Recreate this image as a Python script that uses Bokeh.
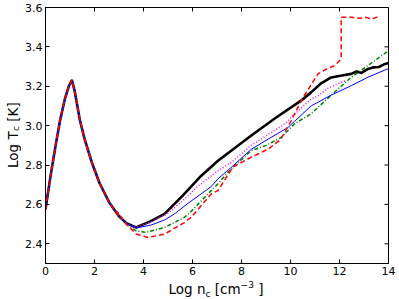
import re
import math
from bokeh.plotting import figure
from bokeh.models import Range1d, FixedTicker, Div
from bokeh.layouts import row, column
from bokeh.embed import file_html
from bokeh.resources import INLINE

# ---------------- data ----------------
# shared early part (all models coincide)
shared_x = [0.0, 0.2, 0.4, 0.6, 0.8, 0.95, 1.08, 1.2, 1.4, 1.6, 1.9, 2.2, 2.6, 3.0]
shared_y = [2.575, 2.74, 2.89, 3.03, 3.14, 3.20, 3.232, 3.17, 3.03, 2.93, 2.81, 2.71, 2.61, 2.54]

black_x = [3.3, 3.7, 4.3, 4.86, 5.6, 6.36, 7.04, 7.58, 8.4, 9.4, 10.43, 10.84, 11.25, 11.66, 12.1,
           12.48, 12.7, 12.9, 13.16, 13.4, 13.6, 13.8, 14.0]
black_y = [2.505, 2.483, 2.515, 2.552, 2.645, 2.746, 2.822, 2.873, 2.95, 3.04, 3.127, 3.169, 3.215, 3.245, 3.255,
           3.263, 3.275, 3.268, 3.288, 3.296, 3.298, 3.31, 3.318]

blue_x = [3.3, 3.7, 4.3, 4.86, 5.3, 5.81, 6.76, 7.04, 7.58, 8.4, 9.2, 9.89, 10.84, 11.66, 12.48, 13.16, 14.0]
blue_y = [2.505, 2.48, 2.495, 2.521, 2.555, 2.605, 2.69, 2.73, 2.788, 2.88, 2.94, 2.99, 3.10, 3.155, 3.203, 3.246, 3.29]

magenta_x = [3.3, 3.7, 4.3, 5.0, 5.67, 6.2, 7.04, 7.58, 8.4, 9.76, 10.84, 11.12, 11.53, 12.07, 12.3]
magenta_y = [2.505, 2.483, 2.51, 2.555, 2.627, 2.69, 2.771, 2.813, 2.90, 3.009, 3.136, 3.15, 3.19, 3.22, 3.23]

green_x = [3.3, 3.7, 4.11, 4.86, 5.67, 5.95, 6.76, 7.04, 7.58, 8.4, 9.0, 9.62, 10.16, 10.84, 11.53, 12.48, 13.16, 14.0]
green_y = [2.50, 2.465, 2.458, 2.483, 2.534, 2.565, 2.67, 2.705, 2.78, 2.873, 2.90, 2.94, 3.009, 3.06, 3.14, 3.246, 3.305, 3.38]

red_x = [2.93, 3.3, 3.7, 4.18, 4.86, 5.67, 5.95, 6.76, 7.04, 7.65, 8.4, 9.08, 9.6, 10.03, 10.44, 11.12, 11.5, 11.8,
         12.07, 12.07, 12.5, 12.8, 13.1, 13.3, 13.5, 13.63]
red_y = [2.564, 2.50, 2.45, 2.432, 2.449, 2.508, 2.535, 2.653, 2.67, 2.79, 2.84, 2.88, 2.93, 3.026, 3.127, 3.263, 3.29, 3.305,
         3.339, 3.55, 3.55, 3.545, 3.55, 3.54, 3.55, 3.55]

x_ticks = [0, 2, 4, 6, 8, 10, 12, 14]
y_ticks = [2.4, 2.6, 2.8, 3.0, 3.2, 3.4, 3.6]
X_MIN, X_MAX, Y_MIN, Y_MAX = 0, 14, 2.3, 3.6

# ---------------- figure ----------------
YLAB_W = 22          # width of the rotated y-label strip
XLAB_H = 18          # height of the x-label strip
W, H = 399 - YLAB_W, 299 - XLAB_H
LEFT, RIGHT, TOP, BOTTOM = 44 - YLAB_W, 11, 7, 18
p = figure(width=W, height=H, output_backend="svg", toolbar_location=None,
           x_range=Range1d(X_MIN, X_MAX), y_range=Range1d(Y_MIN, Y_MAX),
           min_border_left=LEFT, min_border_right=RIGHT, min_border_top=TOP, min_border_bottom=BOTTOM)
p.grid.visible = False
p.outline_line_color = "black"
p.outline_line_width = 1
p.background_fill_color = "white"
p.border_fill_color = "white"
p.margin = 0

FONT = "DejaVu Sans"
for ax, ticks in ((p.xaxis[0], x_ticks), (p.yaxis[0], y_ticks)):
    ax.ticker = FixedTicker(ticks=ticks)
    ax.major_tick_in = 4
    ax.major_tick_out = 0
    ax.minor_tick_line_color = None
    ax.major_label_text_font = FONT
    ax.major_label_text_font_size = "11px"
    ax.major_label_text_color = "black"
    ax.axis_line_color = "black"
    ax.major_label_standoff = 3
p.xaxis[0].major_label_overrides = {v: str(v) for v in x_ticks}
p.yaxis[0].major_label_overrides = {v: f"{v:.1f}" for v in y_ticks}

# inward ticks on the top and right edges (half of each dash is clipped by the frame)
p.scatter(x_ticks, [Y_MAX] * len(x_ticks), marker="dash", angle=math.pi / 2, size=8,
          line_color="black", line_width=1)
p.scatter([X_MAX] * len(y_ticks), y_ticks, marker="dash", size=8,
          line_color="black", line_width=1)

def full(xs, ys):
    return shared_x + xs, shared_y + ys

bx, by = full(black_x, black_y)
p.line(bx, by, color="black", line_width=2.6)
gx, gy = full(green_x, green_y)
p.line(gx, gy, color="#008000", line_width=1.5, line_dash="4 2 1 2")
mx, my = full(magenta_x, magenta_y)
p.line(mx, my, color="#ff00ff", line_width=1.5, line_dash="1 2")
ux, uy = full(blue_x, blue_y)
p.line(ux, uy, color="#0000ff", line_width=1.0)
rx, ry = shared_x + red_x, shared_y + red_y
p.line(rx, ry, color="#ff0000", line_width=1.5, line_dash="5 3")

# ---------------- axis labels (HTML, with sub/superscripts) ----------------
SUB = 'font-size:9px;position:relative;top:3px'
SUP = 'font-size:9px;position:relative;top:-6px'
SUB_V = 'font-size:9px;position:relative;left:-3px'
base_style = f"font-family:'{FONT}';font-size:13.5px;color:black;white-space:nowrap;line-height:14px;"

frame_h = H - TOP - BOTTOM
ylab = Div(
    text=(f'<div style="{base_style}width:{YLAB_W}px;height:{frame_h}px;display:flex;'
          f'align-items:center;justify-content:center;writing-mode:vertical-rl;transform:rotate(180deg);'
          f'padding-right:3px;box-sizing:border-box">'
          f'Log T<span style="{SUB_V}">c</span>&nbsp;[K]</div>'),
    width=YLAB_W, height=H, margin=0,
    styles={"padding-top": f"{TOP}px"},
)
frame_w = W - LEFT - RIGHT
xlab = Div(
    text=(f'<div style="{base_style}width:{YLAB_W + LEFT + frame_w}px;padding-left:{YLAB_W + LEFT}px;'
          f'box-sizing:border-box;text-align:center;padding-top:1px">'
          f'Log n<span style="{SUB}">c</span> [cm<span style="{SUP}">\u22123</span> ]</div>'),
    width=399, height=XLAB_H, margin=0,
)

layout = column(row(ylab, p, spacing=0), xlab, spacing=0)

html = file_html(layout, INLINE)
html = re.sub(r"<body[^>]*>", '<body style="margin:0;overflow:hidden">', html, count=1)
open("out.html", "w").write(html)
